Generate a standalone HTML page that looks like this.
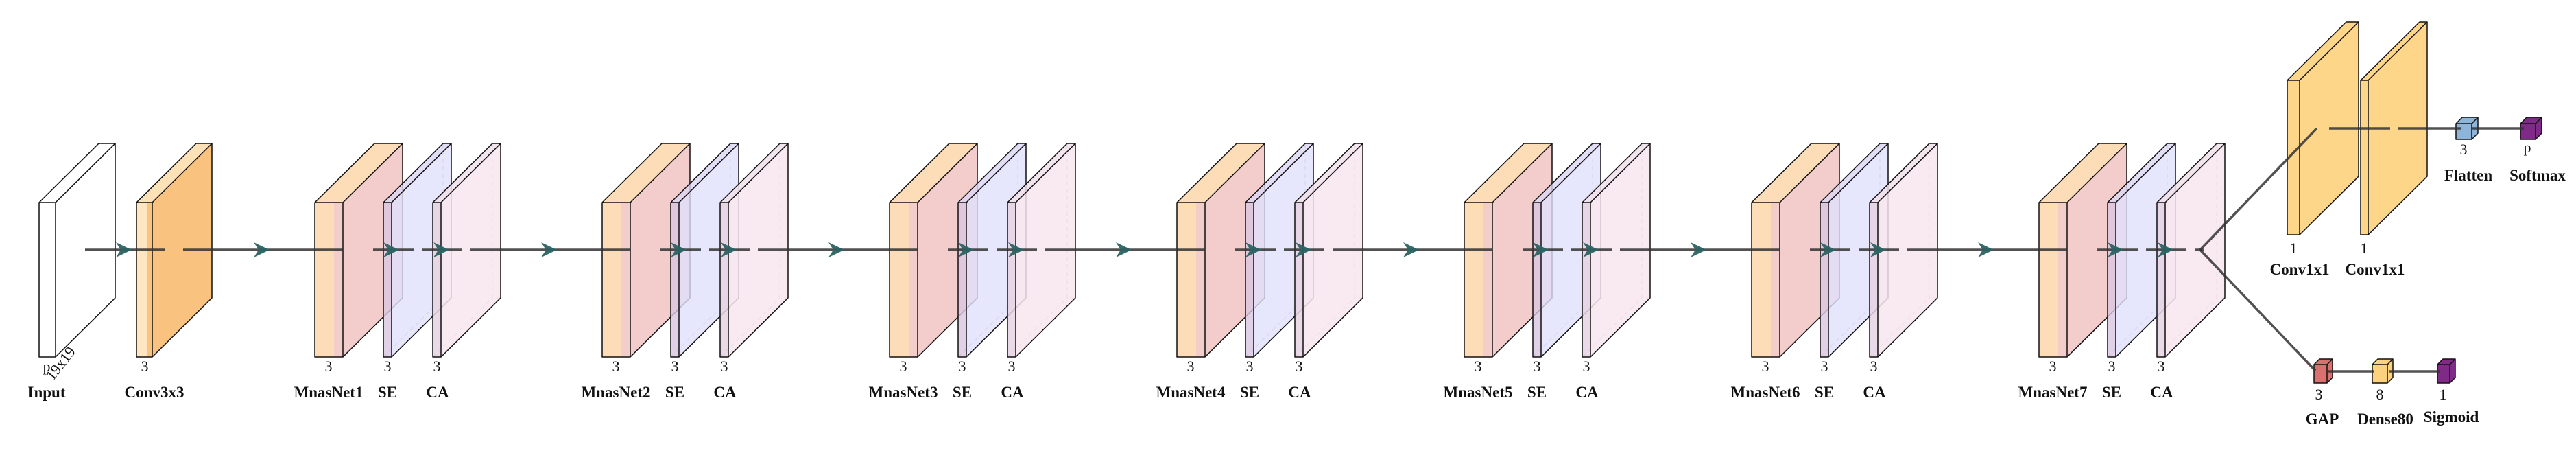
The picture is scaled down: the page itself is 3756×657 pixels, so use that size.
<!DOCTYPE html>
<html><head><meta charset="utf-8">
<style>
html,body{margin:0;padding:0;background:#fff;}
svg{display:block;}
text{font-family:"Liberation Serif",serif;fill:#111;}
.lbl{font-weight:bold;font-size:23px;}
.num{font-size:22px;}
</style></head>
<body>
<svg id="net" width="3756" height="657" viewBox="0 0 3756 657" xmlns="http://www.w3.org/2000/svg">
<g id="boxes"></g>
<g id="lines"></g>
<g id="arrows"></g>
<g id="labels"></g>
</svg>
<script>
// ---- diagram data ----
const blockNames = ["MnasNet1","MnasNet2","MnasNet3","MnasNet4","MnasNet5","MnasNet6","MnasNet7"];
const blockDepth = ["3","3","3","3","3","3","3"];
const headTopNames = ["Conv1x1","Conv1x1","Flatten","Softmax"];
const headTopNums = ["1","1","3","p"];
const headBotNames = ["GAP","Dense80","Sigmoid"];
const headBotNums = ["3","8","1"];

const NS="http://www.w3.org/2000/svg";
const gL=document.getElementById('lines'), gB=document.getElementById('boxes'), gT=document.getElementById('labels'), gA=document.getElementById('arrows');
function mk(tag, attrs, parent){const e=document.createElementNS(NS,tag);for(const k in attrs)e.setAttribute(k,attrs[k]);parent.appendChild(e);return e;}
const DX=87, DY=-86, Y0=295, Y1=520, LY=364;

function slab(x0,w,y0,y1,dx,dy,frontFills,topFill,sideFill,op,name){
  const g=mk('g',{},gB);
  
  
  const x1=x0+w;
  mk('path',{d:`M${x0+dx},${y0+dy}V${y1+dy}H${x1+dx}M${x0},${y1}L${x0+dx},${y1+dy}`,stroke:'#888',fill:'none','stroke-width':1.2,'stroke-dasharray':'6,5',opacity:0.7},g);
  mk('polygon',{points:`${x0},${y0} ${x1},${y0} ${x1+dx},${y0+dy} ${x0+dx},${y0+dy}`,fill:topFill,'fill-opacity':op},g);
  mk('polygon',{points:`${x1},${y0} ${x1+dx},${y0+dy} ${x1+dx},${y1+dy} ${x1},${y1}`,fill:sideFill,'fill-opacity':op},g);
  let cx=x0;
  frontFills.forEach(f=>{mk('rect',{x:cx,y:y0,width:f[1],height:y1-y0,fill:f[0],'fill-opacity':op},g);cx+=f[1];});
  mk('path',{d:`M${x0},${y0}H${x1}V${y1}H${x0}Z M${x0},${y0}L${x0+dx},${y0+dy}H${x1+dx}L${x1},${y0} M${x1+dx},${y0+dy}V${y1+dy}L${x1},${y1}`,stroke:'#111',fill:'none','stroke-width':1.5,'stroke-linejoin':'round'},g);
  return g;
}
function text(x,y,s,cls,name){
  const t=mk('text',{x:x,y:y,'text-anchor':'middle',class:cls},gT);
  t.textContent=s;
  
  
  return t;
}
function seg(x1,y1,x2,y2){
  const l=mk('line',{x1:x1,y1:y1,x2:x2,y2:y2,stroke:'#333','stroke-opacity':0.85,'stroke-width':3.5},gL);
  
  
  return l;
}
function arrowAt(x){
  const p=mk('path',{d:`M${x-23},${LY-11} L${x},${LY} L${x-23},${LY+11} L${x-16},${LY} Z`,fill:'#2b6362','fill-opacity':0.95},gA);
  
  
}

// Input
slab(57,24,Y0,Y1,DX,DY,[['#ffffff',24]],'#ffffff','#ffffff',1,'input-layer');
text(68,541,'p','num','input-depth');
const rt=text(94,534,'19x19','num','input-size');
rt.setAttribute('transform','rotate(-52 94 534)');
text(68,579,'Input','lbl','input-label');
// Conv3x3
slab(199,23,Y0,Y1,DX,DY,[['#fee6c2',15],['#f9c480',8]],'#fde2b8','#f9c27e',1,'conv3x3-layer');
text(211,541,'3','num','conv3x3-depth');
text(225,579,'Conv3x3','lbl','conv3x3-label');
seg(124,LY,241,LY); seg(267,LY,500,LY);
arrowAt(192);

blockNames.forEach((nm,i)=>{
  const B=459+419*i;
  slab(B,41,Y0,Y1,DX,DY,[['#fddcb8',28],['#f2cdca',13]],'#fddcb8','#f2cdcb',1,'mnasnet-block-'+(i+1));
  slab(B+100,12,Y0,Y1,DX,DY,[['#d9c6e0',12]],'#dcd6f2','#e0e0fb',0.8,'se-block-'+(i+1));
  slab(B+172,12,Y0,Y1,DX,DY,[['#e6d2e2',12]],'#f1e0ea','#f8e6ee',0.85,'ca-block-'+(i+1));
  text(B+20,541,blockDepth[i],'num','mnasnet-depth-'+(i+1));
  text(B+106,541,blockDepth[i],'num','se-depth-'+(i+1));
  text(B+178,541,blockDepth[i],'num','ca-depth-'+(i+1));
  text(B+20,579,nm,'lbl','mnasnet-label-'+(i+1));
  text(B+106,579,'SE','lbl','se-label-'+(i+1));
  text(B+179,579,'CA','lbl','ca-label-'+(i+1));
  arrowAt(B-66);
  arrowAt(B+123);
  arrowAt(B+196);
  seg(B+85,LY,B+144,LY); seg(B+156,LY,B+215,LY);
  if(i<6){ seg(B+227,LY,B+419+41,LY); }
  else { seg(B+227,LY,B+241,LY); }
});

// branch lines
seg(3208,LY,3378,187);
seg(3208,LY,3376,540);
// Conv1x1 heads
slab(3335,18,117,342,86,-85,[['#fdd68a',18]],'#fdd68a','#fdd68a',1,'conv1x1-layer-1');
slab(3442,11,117,342,86,-85,[['#fdd68a',11]],'#fdd68a','#fdd68a',1,'conv1x1-layer-2');
seg(3396,187,3485,187); seg(3497,187,3588,187); seg(3604,187,3680,187);
function cube(x,y,w,h,d,fill,name){
  return slab(x,w,y,y+h,d,-d,[[fill,w]],fill,fill,1,name);
}
cube(3581,180,23,23,9,'#8fb4da','flatten-cube');
cube(3675,180,22,23,9,'#7f2a86','softmax-cube');
text(3344,369,headTopNums[0],'num','conv1x1-depth-1');
text(3447,369,headTopNums[1],'num','conv1x1-depth-2');
text(3592,225,headTopNums[2],'num','flatten-depth');
text(3685,222,headTopNums[3],'num','softmax-depth');
text(3353,400,headTopNames[0],'lbl','conv1x1-label-1');
text(3463,400,headTopNames[1],'lbl','conv1x1-label-2');
text(3599,263,headTopNames[2],'lbl','flatten-label');
text(3700,263,headTopNames[3],'lbl','softmax-label');
// bottom head
seg(3393,541,3462,541); seg(3483,541,3558,541);
cube(3374,531,19,27,8,'#db7070','gap-cube');
cube(3459,531,22,27,8,'#fcd27e','dense80-cube');
cube(3554,531,18,27,8,'#7f2a86','sigmoid-cube');
text(3381,582,headBotNums[0],'num','gap-depth');
text(3470,582,headBotNums[1],'num','dense80-depth');
text(3562,582,headBotNums[2],'num','sigmoid-depth');
text(3386,618,headBotNames[0],'lbl','gap-label');
text(3478,618,headBotNames[1],'lbl','dense80-label');
text(3574,615,headBotNames[2],'lbl','sigmoid-label');
</script>
</body></html>
